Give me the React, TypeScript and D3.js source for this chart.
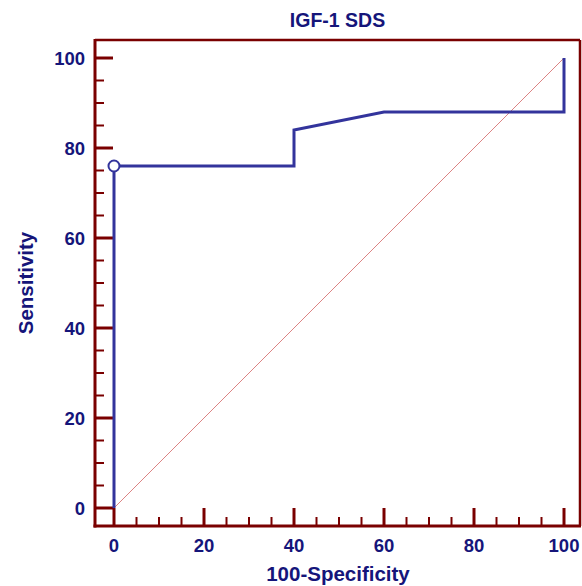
import React from "react";
import * as d3 from "d3";

// ROC curve points (100-Specificity, Sensitivity)
const fpr = [0, 0, 40, 40, 60, 100, 100];
const tpr = [0, 76, 76, 84, 88, 88, 100];
const cutoff = { x: 0, y: 76 };
const majorTicks = [0, 20, 40, 60, 80, 100];
const minorTicks = d3.range(0, 101, 5).filter((v) => v % 20 !== 0);

const W = 582;
const H = 586;
const axisColor = "#7a0000";
const textColor = "#15157a";
const lineColor = "#33349c";
const font = "'Liberation Sans', Arial, sans-serif";

const App = () => {
  const x = d3.scaleLinear().domain([0, 100]).range([114, 564]);
  const y = d3.scaleLinear().domain([0, 100]).range([508, 58]);

  const axisX = 95; // left axis line
  const axisY = 526; // bottom axis line
  const frameTop = 40;
  const frameRight = 580;

  const pts = fpr.map((d, i) => [x(d), y(tpr[i])] as [number, number]);
  const line = d3.line()(pts);

  return (
    <svg width={W} height={H} style={{ position: "absolute", left: 0, top: 0 }}>
      <rect width={W} height={H} fill="#fff" />

      {/* diagonal reference */}
      <line x1={x(0)} y1={y(0)} x2={x(100)} y2={y(100)} stroke="#d05a5a" strokeOpacity={0.75} strokeWidth={1} />

      {/* frame top/right */}
      <line x1={axisX} y1={frameTop} x2={frameRight} y2={frameTop} stroke={axisColor} strokeWidth={2.5} />
      <line x1={frameRight} y1={frameTop} x2={frameRight} y2={axisY} stroke={axisColor} strokeWidth={2.5} />

      {/* y axis */}
      <line x1={axisX} y1={frameTop - 1} x2={axisX} y2={axisY + 1.5} stroke={axisColor} strokeWidth={3} />
      {majorTicks.map((t) => (
        <g key={"ym" + t}>
          <line x1={axisX} x2={axisX + 18} y1={y(t)} y2={y(t)} stroke={axisColor} strokeWidth={3} />
          <text x={85} y={y(t)} dy="0.36em" textAnchor="end" fontFamily={font} fontWeight="bold" fontSize={18.5} fill={textColor}>
            {t}
          </text>
        </g>
      ))}
      {minorTicks.map((t) => (
        <line key={"yn" + t} x1={axisX} x2={axisX + 9} y1={y(t)} y2={y(t)} stroke={axisColor} strokeWidth={2} />
      ))}

      {/* x axis */}
      <line x1={axisX - 1.5} y1={axisY} x2={frameRight + 1} y2={axisY} stroke={axisColor} strokeWidth={3} />
      {majorTicks.map((t) => (
        <g key={"xm" + t}>
          <line x1={x(t)} x2={x(t)} y1={axisY} y2={axisY - 18} stroke={axisColor} strokeWidth={3} />
          <text x={x(t)} y={552} textAnchor="middle" fontFamily={font} fontWeight="bold" fontSize={18.5} fill={textColor}>
            {t}
          </text>
        </g>
      ))}
      {minorTicks.map((t) => (
        <line key={"xn" + t} x1={x(t)} x2={x(t)} y1={axisY} y2={axisY - 9} stroke={axisColor} strokeWidth={2} />
      ))}

      {/* ROC curve */}
      <path d={line ?? ""} fill="none" stroke={lineColor} strokeWidth={3} strokeLinejoin="miter" />
      <circle cx={x(cutoff.x)} cy={y(cutoff.y)} r={5.5} fill="#fff" stroke={lineColor} strokeWidth={2} />

      {/* titles */}
      <text x={337.5} y={27} textAnchor="middle" fontFamily={font} fontWeight="bold" fontSize={19.5} fill={textColor}>
        IGF-1 SDS
      </text>
      <text x={338} y={581} textAnchor="middle" fontFamily={font} fontWeight="bold" fontSize={20.5} fill={textColor}>
        100-Specificity
      </text>
      <text
        transform={`translate(33,283) rotate(-90)`}
        textAnchor="middle"
        fontFamily={font}
        fontWeight="bold"
        fontSize={20.5}
        fill={textColor}
      >
        Sensitivity
      </text>
    </svg>
  );
};

export default App;
